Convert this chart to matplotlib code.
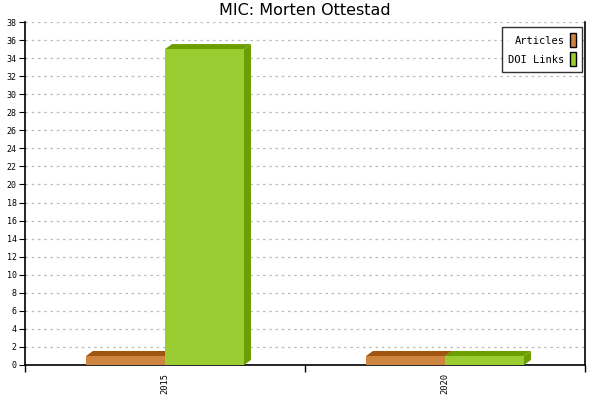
import matplotlib
matplotlib.use('Agg')
import matplotlib.pyplot as plt
from matplotlib.patches import Polygon, Rectangle

# data
years = ['2015', '2020']
articles = [1, 1]
doi_links = [35, 1]
series = [('Articles', articles, '#CD853F', '#A0540F'),
          ('DOI Links', doi_links, '#9ACD32', '#6B9E00')]

fig = plt.figure(figsize=(6, 4), dpi=100)
ax = fig.add_axes([25 / 600, 35 / 400, 560 / 600, 343 / 400])
ax.set_xlim(0, len(years))
ax.set_ylim(0, 38)

bar_w = 0.282
# 3d depth in data units (about 7px right, 5px up)
dx = 7 / 280.0
dy = 5 / (343 / 38.0)

for i, yr in enumerate(years):
    center = i + 0.5
    for j, (name, vals, col, dark) in enumerate(series):
        x0 = center - bar_w + j * bar_w
        h = vals[i]
        # top face
        ax.add_patch(Polygon([(x0, h), (x0 + dx, h + dy), (x0 + bar_w + dx, h + dy), (x0 + bar_w, h)],
                             closed=True, facecolor=dark, edgecolor='none', zorder=3))
        # side face
        ax.add_patch(Polygon([(x0 + bar_w, 0), (x0 + bar_w, h), (x0 + bar_w + dx, h + dy), (x0 + bar_w + dx, dy)],
                             closed=True, facecolor=dark, edgecolor='none', zorder=3 + j))
        # front face
        ax.add_patch(Rectangle((x0, 0), bar_w, h, facecolor=col, edgecolor='none', zorder=4 + j))

# grid
ax.set_yticks(range(0, 39, 2))
ax.yaxis.grid(True, linestyle=(0, (2, 3)), color='#bbbbbb', linewidth=0.9)
ax.set_axisbelow(True)

ax.set_xticks([0, 1, 2])
ax.set_xticklabels([])
ax.set_xticks([0.5, 1.5], minor=True)
ax.set_xticklabels(years, minor=True, rotation=90, fontsize=6.3, family='DejaVu Sans Mono')
ax.tick_params(axis='x', which='minor', length=0, pad=6)
ax.tick_params(axis='x', which='major', length=5, direction='out', width=1)
ax.tick_params(axis='y', length=4, direction='out', labelsize=6, pad=2)
for lbl in ax.get_yticklabels():
    lbl.set_family('DejaVu Sans Mono')

ax.spines['top'].set_visible(False)
for s in ['left', 'right', 'bottom']:
    ax.spines[s].set_linewidth(1.2)

ax.set_title('MIC: Morten Ottestad', fontsize=11.5, pad=5)

# legend
handles = [Rectangle((0, 0), 1, 1, facecolor=c, edgecolor='black', linewidth=1) for _, _, c, _ in series]
leg = ax.legend(handles, [s[0] for s in series], loc='upper right', bbox_to_anchor=(0.995, 0.985),
                prop={'family': 'DejaVu Sans Mono', 'size': 7.5}, frameon=True, fancybox=False,
                markerfirst=False, handlelength=0.6, handleheight=1.7, handletextpad=0.5,
                borderpad=0.6, labelspacing=0.45, borderaxespad=0)
leg.get_frame().set_edgecolor('black')
leg.get_frame().set_linewidth(1)

fig.savefig('out.png', dpi=100)
